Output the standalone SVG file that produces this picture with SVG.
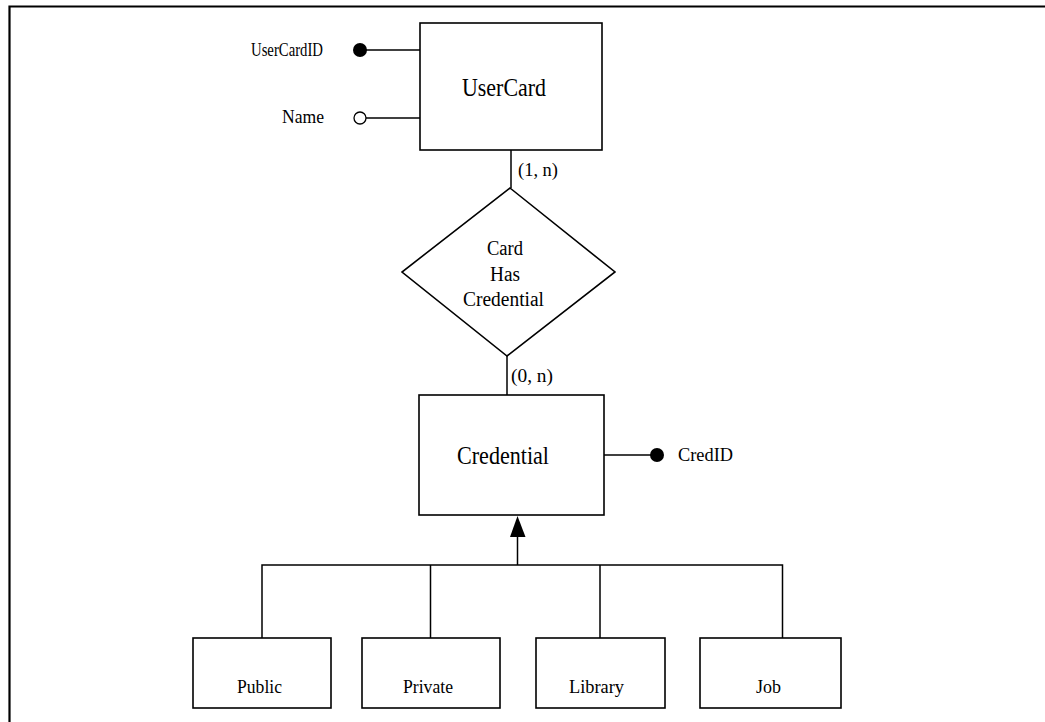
<svg xmlns="http://www.w3.org/2000/svg" width="1045" height="722" viewBox="0 0 1045 722">
<style>
  .box{fill:#fff;stroke:#000;stroke-width:1.6}
  .ln{fill:none;stroke:#000;stroke-width:1.5}
  text{font-family:'Liberation Serif','Times New Roman',Times,serif;fill:#000}
  .s{font-size:19px}
  .p{font-size:18px}
  .m{font-size:20px}
  .b{font-size:26px}
  .c{font-size:18px}
</style>
<rect width="1045" height="722" fill="#fff"/>
<g id="frame">
  <path d="M9.5,722 V6.5 H1045" fill="none" stroke="#000" stroke-width="2.2"/>
</g>
<g id="connectors">
  <line class="ln" x1="366" y1="50" x2="420" y2="50"/>
  <line class="ln" x1="366" y1="118" x2="420" y2="118"/>
  <line class="ln" x1="511" y1="150" x2="511" y2="188"/>
  <line class="ln" x1="507" y1="356" x2="507" y2="395"/>
  <line class="ln" x1="604" y1="455" x2="657" y2="455"/>
  <line class="ln" x1="517.5" y1="565" x2="517.5" y2="536"/>
  <path d="M510,537 L525.5,537 L517.5,516 Z" fill="#000"/>
  <path class="ln" d="M262,638 V565 H782.5 V638 M430.5,565 V638 M600,565 V638"/>
</g>
<g id="UserCard">
  <rect class="box" x="420" y="23" width="182" height="127"/>
  <text class="b" x="462" y="96" textLength="84" lengthAdjust="spacingAndGlyphs">UserCard</text>
</g>
<g id="UserCardID">
  <circle cx="360" cy="50" r="7" fill="#000"/>
  <text class="p" x="251" y="56" textLength="72" lengthAdjust="spacingAndGlyphs">UserCardID</text>
</g>
<g id="Name">
  <circle cx="360" cy="118" r="6" fill="#fff" stroke="#000" stroke-width="1.3"/>
  <text class="s" x="282" y="123" textLength="42" lengthAdjust="spacingAndGlyphs">Name</text>
</g>
<g id="CardHasCredential">
  <path class="box" d="M510,188 L615,272 L507,356 L402,272 Z"/>
  <text class="m" x="487" y="255" textLength="36" lengthAdjust="spacingAndGlyphs">Card</text>
  <text class="m" x="490" y="281" textLength="30" lengthAdjust="spacingAndGlyphs">Has</text>
  <text class="m" x="463" y="306" textLength="81" lengthAdjust="spacingAndGlyphs">Credential</text>
</g>
<g id="card-labels">
  <text class="p" x="518" y="176" textLength="40" lengthAdjust="spacingAndGlyphs">(1, n)</text>
  <text class="p" x="511" y="382" textLength="42" lengthAdjust="spacingAndGlyphs">(0, n)</text>
</g>
<g id="Credential">
  <rect class="box" x="419" y="395" width="185" height="120"/>
  <text class="b" x="457" y="464" textLength="92" lengthAdjust="spacingAndGlyphs">Credential</text>
</g>
<g id="CredID">
  <circle cx="657" cy="455" r="7" fill="#000"/>
  <text class="s" x="678" y="461" textLength="55" lengthAdjust="spacingAndGlyphs">CredID</text>
</g>
<g id="Public">
  <rect class="box" x="193" y="638" width="138" height="70"/>
  <text class="c" x="237" y="693" textLength="45" lengthAdjust="spacingAndGlyphs">Public</text>
</g>
<g id="Private">
  <rect class="box" x="362" y="638" width="138" height="70"/>
  <text class="c" x="403" y="693" textLength="50" lengthAdjust="spacingAndGlyphs">Private</text>
</g>
<g id="Library">
  <rect class="box" x="536" y="638" width="129" height="70"/>
  <text class="c" x="569" y="693" textLength="55" lengthAdjust="spacingAndGlyphs">Library</text>
</g>
<g id="Job">
  <rect class="box" x="700" y="638" width="141" height="70"/>
  <text class="c" x="756" y="693" textLength="25" lengthAdjust="spacingAndGlyphs">Job</text>
</g>
</svg>
